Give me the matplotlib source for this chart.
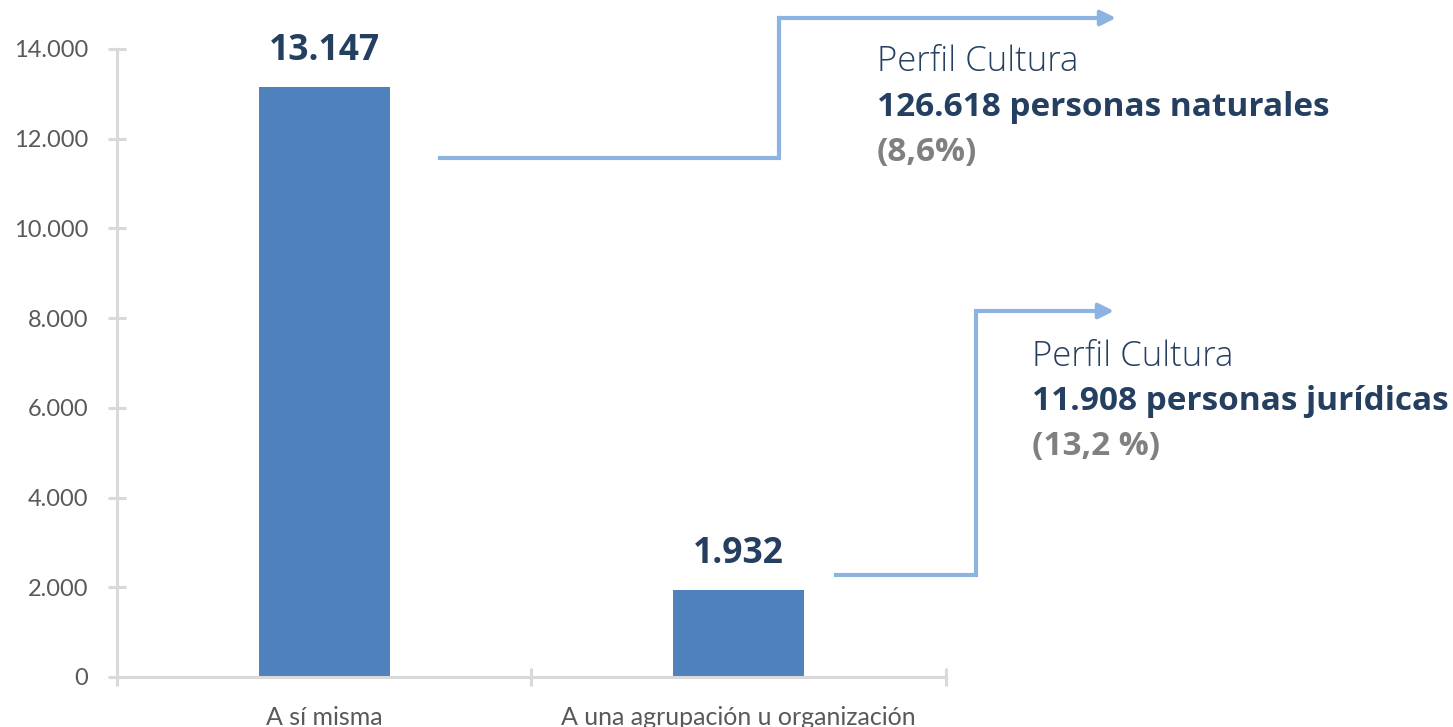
import matplotlib.pyplot as plt
from matplotlib.ticker import FuncFormatter

# datos
categorias = ["A sí misma", "A una agrupación u organización"]
valores = [13147, 1932]
etiquetas_valor = ["13.147", "1.932"]
yticks = [0, 2000, 4000, 6000, 8000, 10000, 12000, 14000]

bloque1 = ["Perfil Cultura", "126.618 personas naturales", "(8,6%)"]
bloque2 = ["Perfil Cultura", "11.908 personas jurídicas", "(13,2 %)"]

azul_barra = "#4F81BD"
azul_linea = "#8DB3E2"
navy = "#243F60"
gris_txt = "#595959"
gris_pct = "#808080"
gris_eje = "#D9D9D9"

plt.rcParams["font.family"] = ["Lato", "DejaVu Sans"]

fig = plt.figure(figsize=(14.53, 7.27), dpi=100)
ax = fig.add_axes([0.0805, 0.0688, 0.5705, 0.8638])

x = list(range(len(categorias)))
ax.bar(x, valores, width=0.316, color=azul_barra, zorder=2)
for xi, v, t in zip(x, valores, etiquetas_valor):
    ax.text(xi, v + 400, t, ha="center", va="bottom", fontsize=25.5,
            fontweight="bold", color=navy, family=["Open Sans", "DejaVu Sans"])

ax.set_xlim(-0.5, 1.5)
ax.set_ylim(0, 14000)
ax.set_yticks(yticks)
ax.yaxis.set_major_formatter(FuncFormatter(lambda v, p: f"{int(v):,}".replace(",", ".")))
ax.set_xticks([-0.5, 0.5, 1.5])
ax.set_xticklabels([])
ax.set_xticks(x, minor=True)
ax.set_xticklabels(categorias, minor=True)

for s in ["top", "right"]:
    ax.spines[s].set_visible(False)
for s in ["left", "bottom"]:
    ax.spines[s].set_color(gris_eje)
    ax.spines[s].set_linewidth(2.2)

ax.tick_params(axis="y", direction="inout", length=13, width=2.2, color=gris_eje,
               labelsize=17, labelcolor=gris_txt, pad=14)
ax.tick_params(axis="x", which="major", direction="inout", length=13, width=2.2,
               color=gris_eje)
ax.tick_params(axis="x", which="minor", length=0, labelsize=18,
               labelcolor=gris_txt, pad=21)

# conectores (coordenadas de figura)
def conector(pts):
    xs = [p[0] / 1453 for p in pts]
    ys = [1 - p[1] / 727 for p in pts]
    fig.add_artist(plt.Line2D(xs[:-1], ys[:-1], color=azul_linea, lw=3,
                              solid_joinstyle="miter", transform=fig.transFigure))
    ax.annotate("", xy=(xs[-1], ys[-1]), xytext=(xs[-2], ys[-2]),
                xycoords="figure fraction", textcoords="figure fraction",
                arrowprops=dict(arrowstyle="-|>,head_length=0.9,head_width=0.45",
                                color=azul_linea, lw=3, shrinkA=0, shrinkB=0))

conector([(440, 158), (779, 158), (779, 18), (1116, 18)])
conector([(836, 575), (976, 575), (976, 311), (1114, 311)])

def bloque(x0, y0, lineas):
    estilos = [(navy, "light", 25), (navy, "bold", 24), (gris_pct, "bold", 24)]
    for i, (t, (c, w, fs)) in enumerate(zip(lineas, estilos)):
        fig.text(x0 / 1453, 1 - (y0 + i * 45) / 727, t, ha="left", va="center",
                 fontsize=fs, color=c, fontweight=w,
                 family=["Open Sans", "DejaVu Sans"])

bloque(877, 62, bloque1)
bloque(1032, 357, bloque2)

fig.savefig("out.png", dpi=100)
